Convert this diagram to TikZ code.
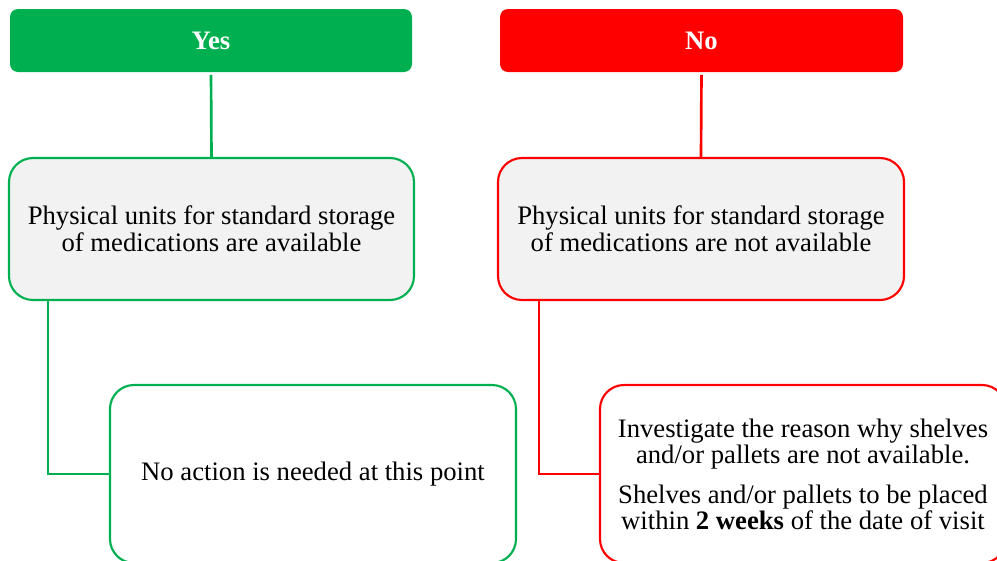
\documentclass[tikz,border=0pt]{standalone}
\usepackage{fontspec}
\setmainfont{Liberation Serif}
\definecolor{yesgreen}{RGB}{0,176,80}
\definecolor{nored}{RGB}{255,0,0}
\definecolor{boxgray}{RGB}{242,242,242}
\begin{document}
\begin{tikzpicture}[x=0.75pt,y=-0.75pt,
  every node/.style={inner sep=0pt,align=center,font=\fontsize{20}{20.25}\selectfont},
  header/.style={rounded corners=6pt,minimum height=47.25pt,text=white,font=\fontsize{20}{20.25}\selectfont\bfseries},
  card/.style={rounded corners=18pt,line width=1.6pt},
  link/.style={line width=2pt}]
\useasboundingbox (0,0) rectangle (997,561);
\clip (0,0) rectangle (997,561);

% Yes branch
\node[header,fill=yesgreen,minimum width=301.5pt] (yes) at (211,40.5) {Yes};
\node[card,draw=yesgreen,fill=boxgray,minimum width=303.75pt,minimum height=106.5pt] (g1) at (211.5,229)
  {Physical units for standard storage\\of medications are available};
\node[card,draw=yesgreen,fill=white,minimum width=304.5pt,minimum height=133.5pt] (g2) at (313,474)
  {No action is needed at this point};

% No branch
\node[header,fill=nored,minimum width=302.25pt] (no) at (701.5,40.5) {No};
\node[card,draw=nored,fill=boxgray,minimum width=304.5pt,minimum height=106.5pt] (r1) at (701,229)
  {Physical units for standard storage\\of medications are not available};
\node[card,draw=nored,fill=white,minimum width=304.5pt,minimum height=133.5pt,
      font=\fontsize{20}{19.5}\selectfont] (r2) at (803,474)
  {Investigate the reason why shelves\\and/or pallets are not available.\\[10.5pt]
   Shelves and/or pallets to be placed\\within \textbf{2 weeks} of the date of visit};

% connectors
\draw[link,draw=yesgreen,shorten <=2pt] (yes.south) -- (g1.north);
\draw[link,draw=yesgreen] ([xshift=30pt]g1.south west) |- (g2.west);
\draw[link,draw=nored,shorten <=2pt] (no.south) -- (r1.north);
\draw[link,draw=nored] ([xshift=31.5pt]r1.south west) |- (r2.west);
\end{tikzpicture}
\end{document}
